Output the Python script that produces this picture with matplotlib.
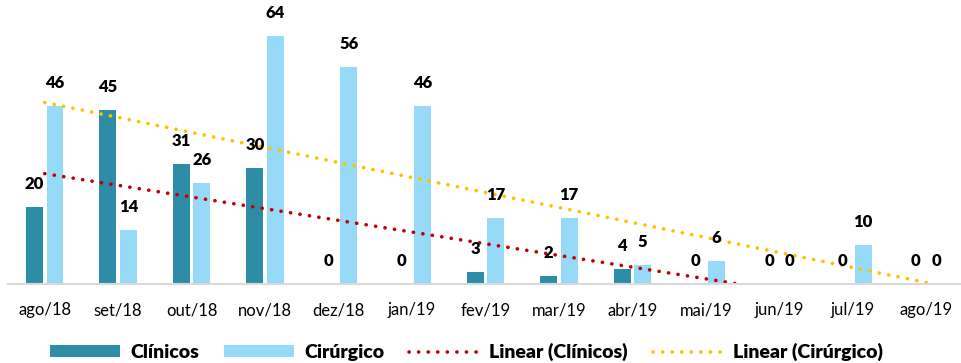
import matplotlib.pyplot as plt
import numpy as np

# Dados
meses = ['ago/18', 'set/18', 'out/18', 'nov/18', 'dez/18', 'jan/19', 'fev/19',
         'mar/19', 'abr/19', 'mai/19', 'jun/19', 'jul/19', 'ago/19']
clinicos = [20, 45, 31, 30, 0, 0, 3, 2, 4, 0, 0, 0, 0]
cirurgico = [46, 14, 26, 64, 56, 46, 17, 17, 5, 6, 0, 10, 0]

cor_cli = '#2E8CA6'
cor_cir = '#97DAF7'

plt.rcParams['font.family'] = ['Lato', 'DejaVu Sans']

fig = plt.figure(figsize=(9.62, 3.63), dpi=100)
ax = fig.add_axes([8 / 962, (363 - 284) / 363, 955 / 962, 284 / 363])

x = np.arange(len(meses))
w = 0.23
b1 = ax.bar(x - 0.14, clinicos, w, color=cor_cli, label='Clínicos')
b2 = ax.bar(x + 0.14, cirurgico, w, color=cor_cir, label='Cirúrgico')

# rótulos
for xs, vals in ((x - 0.14, clinicos), (x + 0.14, cirurgico)):
    for xi, v in zip(xs, vals):
        ax.annotate(str(v), (xi, v), xytext=(0, 16.5), textcoords='offset points',
                    ha='center', va='center', fontsize=12, fontweight='heavy')

# linhas de tendência (regressão linear)
linhas = []
xx = np.linspace(0, len(meses) - 1, 400)
for vals, cor, nome in ((clinicos, '#C00000', 'Linear (Clínicos)'),
                        (cirurgico, '#FFC000', 'Linear (Cirúrgico)')):
    a, b = np.polyfit(x, vals, 1)
    yy = a * xx + b
    ok = yy >= 0
    l, = ax.plot(xx[ok], yy[ok], color=cor, linestyle=(0, (0.05, 2.6)), linewidth=2.6,
                 label=nome, dash_capstyle='round', solid_capstyle='round')
    linhas.append(l)

ax.set_xlim(-0.5, len(meses) - 0.5)
ax.set_ylim(0, 73.3)
ax.set_xticks(x)
ax.set_xticklabels(meses, fontsize=12)
ax.tick_params(axis='x', length=0, pad=13)
ax.set_yticks([])
for s in ('top', 'right', 'left'):
    ax.spines[s].set_visible(False)
ax.spines['bottom'].set_color('#D9D9D9')
ax.spines['bottom'].set_linewidth(1.5)

fig.legend(handles=[b1, b2] + linhas, loc='center', bbox_to_anchor=(0.485, 1 - 352 / 363),
           ncol=4, frameon=False, prop={'weight': 'heavy', 'size': 14},
           handlelength=3.6, handleheight=0.55, columnspacing=1.3, handletextpad=0.5)

fig.savefig('out.png', dpi=100)
